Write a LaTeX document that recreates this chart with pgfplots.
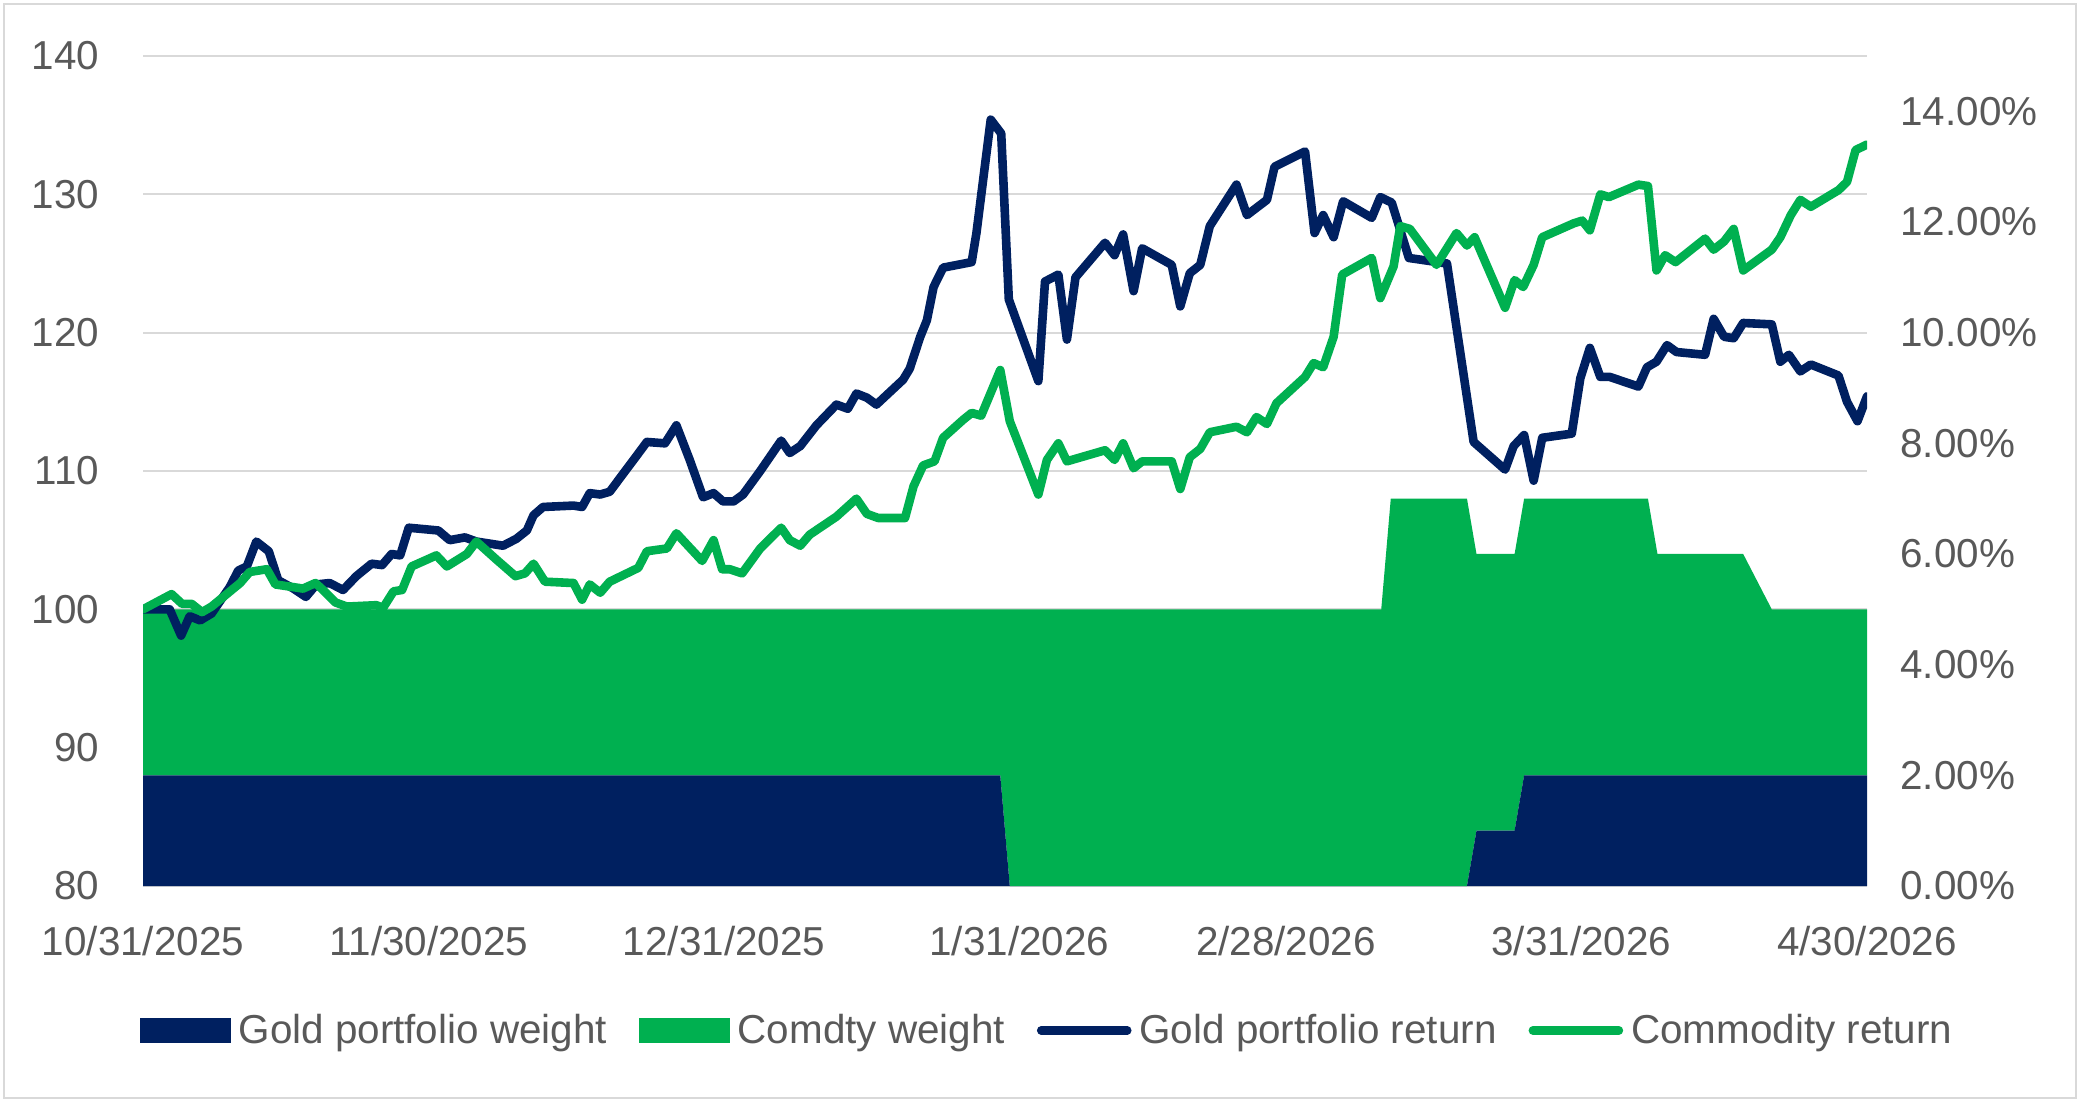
\documentclass[border=0pt]{standalone}
\usepackage{pgfplots}
\pgfplotsset{compat=1.18}
\usepackage{pgfplotstable}
\usepackage{fontspec}
\setmainfont{Liberation Sans}
\definecolor{navy}{HTML}{002060}
\definecolor{cgreen}{HTML}{00B050}
\definecolor{txtgray}{HTML}{595959}
\definecolor{gridgray}{HTML}{D9D9D9}

\pgfplotstableread{
d gold comdty
0 2 3
90 2 3
91 0 5
130 0 5
131 0 7
139 0 7
140 1 5
144 1 5
145 2 5
158 2 5
159 2 4
168 2 4
171 2 3
181 2 3
}\weights

\pgfplotstableread{
d v
0 100.0
2.8 100.0
4.0 98.1
4.9 99.5
6.0 99.2
7.2 99.7
9.1 101.6
10.0 102.8
10.9 103.1
11.9 104.9
13.2 104.2
14.2 102.1
15.8 101.5
17.1 100.9
18.2 101.8
19.6 101.9
21.0 101.4
22.4 102.4
24.0 103.3
25.1 103.2
26.1 104.0
27.0 103.9
27.9 105.9
31.0 105.7
32.2 105.0
33.8 105.2
35.0 104.9
37.8 104.6
39.2 105.1
40.3 105.7
41.0 106.8
42.0 107.4
45.2 107.5
46.1 107.4
46.9 108.4
48.0 108.3
49.0 108.5
50.3 109.7
51.5 110.8
52.9 112.1
54.8 112.0
56.0 113.3
57.4 110.8
58.8 108.1
59.9 108.4
60.9 107.8
62.0 107.8
63.0 108.3
64.8 110.0
67.0 112.2
67.9 111.3
69.0 111.8
70.7 113.3
72.8 114.8
74.0 114.5
74.9 115.6
76.0 115.3
77.0 114.8
79.8 116.6
80.5 117.4
81.6 119.7
82.3 120.9
83.0 123.3
84.0 124.7
87.0 125.1
87.5 127.2
89.0 135.4
90.1 134.4
90.9 122.4
94.0 116.5
94.7 123.7
96.1 124.2
97.0 119.5
97.9 124.0
101.0 126.5
102.0 125.6
102.9 127.1
104.0 123.0
104.9 126.1
108.0 124.9
108.9 121.9
109.9 124.3
111.0 124.9
112.0 127.7
114.8 130.7
115.9 128.5
118.0 129.6
118.8 132.0
122.0 133.1
123.0 127.2
123.9 128.5
125.0 126.9
126.0 129.5
129.0 128.3
129.9 129.8
131.1 129.4
132.9 125.4
136.9 125.0
139.7 112.1
143.0 110.1
143.9 111.8
145.0 112.6
146.0 109.3
146.9 112.4
150.0 112.7
150.9 116.7
151.9 118.9
153.0 116.8
154.0 116.8
157.0 116.1
157.9 117.5
158.9 117.9
160.0 119.1
161.0 118.6
164.0 118.4
164.9 121.0
166.0 119.7
167.0 119.6
168.0 120.7
171.0 120.6
171.9 117.9
172.8 118.4
174.0 117.2
175.1 117.7
178.0 116.9
178.9 115.0
180.0 113.6
181.0 115.4
}\goldret

\pgfplotstableread{
d v
0 100.0
3.0 101.1
4.1 100.4
5.1 100.4
6.2 99.8
7.2 100.2
10.2 101.9
11.2 102.7
13.0 102.9
13.9 101.8
16.8 101.5
18.1 101.9
18.9 101.4
20.2 100.5
21.4 100.2
24.5 100.3
25.2 100.1
26.3 101.3
27.2 101.4
28.2 103.1
30.8 103.9
31.9 103.1
34.0 104.0
35.0 104.9
37.1 103.6
39.1 102.4
40.1 102.6
41.0 103.3
42.2 102.0
45.2 101.9
46.1 100.7
46.9 101.8
48.0 101.2
49.0 102.0
52.0 103.0
52.9 104.2
55.0 104.4
56.0 105.5
58.7 103.5
59.9 105.0
60.8 102.9
61.6 102.9
62.9 102.6
64.8 104.4
67.0 105.9
67.9 105.0
69.0 104.6
70.0 105.4
72.8 106.7
74.9 108.0
76.0 106.9
77.2 106.6
80.0 106.6
80.9 108.9
81.9 110.4
83.1 110.7
84.0 112.4
86.1 113.7
87.0 114.2
88.0 114.0
90.0 117.3
91.0 113.6
94.0 108.3
94.9 110.8
96.1 112.0
97.0 110.7
98.0 110.9
101.0 111.5
102.0 110.8
102.9 112.0
104.0 110.2
104.9 110.7
108.0 110.7
108.9 108.7
109.9 111.0
111.0 111.6
112.0 112.8
114.8 113.2
115.9 112.8
116.9 113.9
118.0 113.4
119.0 114.9
122.0 116.8
122.9 117.8
123.9 117.5
125.0 119.7
125.9 124.2
129.0 125.4
129.9 122.5
131.3 124.8
132.0 127.7
133.0 127.5
135.8 124.9
137.9 127.2
139.0 126.3
139.8 126.9
143.0 121.8
144.0 123.8
144.9 123.3
146.0 124.9
146.9 126.9
150.2 127.9
151.1 128.1
151.9 127.4
153.0 130.0
153.9 129.8
157.0 130.7
158.0 130.6
158.9 124.5
159.8 125.6
160.9 125.1
164.0 126.8
164.9 126.0
166.0 126.6
167.0 127.5
168.0 124.5
171.0 126.0
171.9 126.9
173.0 128.5
174.0 129.6
175.1 129.1
178.0 130.3
178.9 130.9
179.8 133.2
181.0 133.6
}\comret

\newcommand{\chartfont}{\fontsize{20.2}{24}\selectfont}

\pgfplotsset{
  base/.style={
    at={(71.5pt,111.5pt)}, anchor=south west,
    width=862pt, height=415pt, scale only axis,
    xmin=0, xmax=181,
    axis line style={draw=none},
    tick style={draw=none},
    ticklabel style={font=\chartfont, text=txtgray, inner sep=0pt},
  }
}

\begin{document}
\begin{tikzpicture}
\useasboundingbox (0,0) rectangle (1040pt,554.5pt);
\fill[white] (0,0) rectangle (1040pt,554.5pt);
\draw[gridgray, line width=1pt] (2pt,5.5pt) rectangle (1038pt,552.5pt);

% left axis with gridlines and date labels
\begin{axis}[base,
  ymin=80, ymax=140,
  ytick={80,90,100,110,120,130,140},
  yticklabels={80,90,100,110,120,130,140},
  ymajorgrids,
  major grid style={gridgray, line width=1pt},
  yticklabel style={anchor=east, xshift=-21.8pt},
  xtick={0,30,61,92,120,151,181},
  xticklabels={10/31/2025,11/30/2025,12/31/2025,1/31/2026,2/28/2026,3/31/2026,4/30/2026},
  xticklabel style={anchor=north, yshift=-20pt},
]
\addplot[draw=none, forget plot] coordinates {(0,100)};
\end{axis}

% right axis: stacked weights
\begin{axis}[base,
  ymin=0, ymax=15,
  ytick={0,2,4,6,8,10,12,14},
  yticklabels={0.00\%,2.00\%,4.00\%,6.00\%,8.00\%,10.00\%,12.00\%,14.00\%},
  yticklabel pos=right,
  yticklabel style={anchor=west, xshift=16.5pt},
  xtick=\empty,
  stack plots=y,
]
\addplot[fill=navy, draw=none] table[x=d, y=gold] {\weights} \closedcycle;
\addplot[fill=cgreen, draw=none] table[x=d, y=comdty] {\weights} \closedcycle;
\end{axis}

% returns lines
\begin{axis}[base,
  ymin=80, ymax=140,
  xtick=\empty, ytick=\empty,
  legend columns=4,
  legend style={
    at={(0.5238,-0.174)}, anchor=center,
    draw=none, fill=none, inner sep=0pt,
    font=\chartfont, text=txtgray,
    nodes={inner sep=0pt},
    /tikz/every odd column/.append style={column sep=4pt},
    /tikz/every even column/.append style={column sep=16pt},
  },
]
\addlegendimage{legend image code/.code={\fill[navy] (0pt,-5.9pt) rectangle (45pt,5.9pt);}}
\addlegendentry{Gold portfolio weight}
\addlegendimage{legend image code/.code={\fill[cgreen] (0pt,-5.9pt) rectangle (45pt,5.9pt);}}
\addlegendentry{Comdty weight}
\addplot[navy, line width=4.3pt, line join=round, line cap=round,
  legend image code/.code={\draw[navy, line width=4.3pt, line cap=round] (1pt,0pt) -- (44pt,0pt);}]
  table[x=d, y=v] {\goldret};
\addlegendentry{Gold portfolio return}
\addplot[cgreen, line width=4.3pt, line join=round, line cap=round,
  legend image code/.code={\draw[cgreen, line width=4.3pt, line cap=round] (1pt,0pt) -- (44pt,0pt);}]
  table[x=d, y=v] {\comret};
\addlegendentry{Commodity return}
\end{axis}
\end{tikzpicture}
\end{document}
